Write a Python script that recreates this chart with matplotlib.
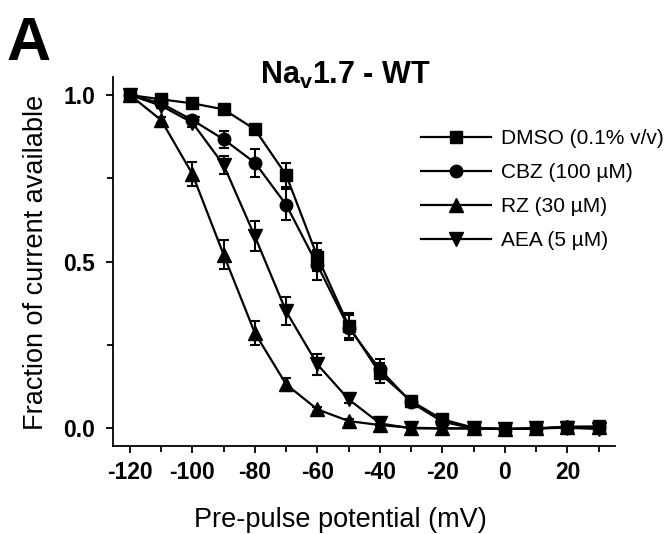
import matplotlib
matplotlib.use("Agg")
import matplotlib.pyplot as plt
from matplotlib.ticker import MultipleLocator

plt.rcParams['font.family'] = ['Liberation Sans', 'DejaVu Sans']
plt.rcParams['mathtext.fontset'] = 'custom'
plt.rcParams['mathtext.bf'] = 'Liberation Sans:bold'
plt.rcParams['mathtext.rm'] = 'Liberation Sans'
plt.rcParams['axes.unicode_minus'] = False

# pre-pulse potential (mV)
voltage = [-120, -110, -100, -90, -80, -70, -60, -50, -40, -30, -20, -10, 0, 10, 20, 30]

dmso = [1.0, 0.987, 0.975, 0.957, 0.897, 0.76, 0.515, 0.308, 0.165, 0.082, 0.027, 0.002, -0.002, 0.0, 0.005, 0.006]
dmso_err = [0, 0.005, 0.005, 0.008, 0.01, 0.037, 0.042, 0.037, 0.03, 0.015, 0.008, 0.005, 0.003, 0.003, 0.004, 0.004]
cbz = [1.0, 0.975, 0.925, 0.867, 0.797, 0.671, 0.49, 0.302, 0.177, 0.078, 0.02, 0.0, -0.002, 0.0, 0.004, 0.004]
cbz_err = [0, 0.008, 0.012, 0.026, 0.042, 0.047, 0.045, 0.037, 0.03, 0.015, 0.008, 0.004, 0.003, 0.003, 0.004, 0.004]
rz = [1.0, 0.925, 0.763, 0.521, 0.286, 0.132, 0.057, 0.022, 0.01, 0.002, 0.0, 0.0, -0.002, 0.0, 0.003, 0.003]
rz_err = [0, 0.01, 0.035, 0.044, 0.036, 0.019, 0.008, 0.005, 0.004, 0.003, 0.002, 0.002, 0.002, 0.002, 0.002, 0.002]
aea = [1.0, 0.968, 0.917, 0.79, 0.576, 0.351, 0.192, 0.087, 0.015, 0.0, 0.0, 0.0, -0.002, 0.0, 0.002, -0.002]
aea_err = [0, 0.008, 0.012, 0.028, 0.045, 0.042, 0.031, 0.012, 0.006, 0.003, 0.002, 0.002, 0.002, 0.002, 0.002, 0.002]

labels = ['DMSO (0.1% v/v)', 'CBZ (100 µM)', 'RZ (30 µM)', 'AEA (5 µM)']
markers = ['s', 'o', '^', 'v']
msizes = [8.5, 9, 10, 10]

fig = plt.figure(figsize=(6.71, 5.34), dpi=100)
ax = fig.add_axes([0.1684, 0.1648, 0.7481, 0.6916])

series = [(dmso, dmso_err), (cbz, cbz_err), (rz, rz_err), (aea, aea_err)]
for (y, e), lab, m, ms in zip(series, labels, markers, msizes):
    ax.errorbar(voltage, y, yerr=e, fmt='none', ecolor='black', elinewidth=1.5,
                capsize=3.8, capthick=1.5, zorder=2)
    ax.plot(voltage, y, color='black', lw=1.6, marker=m, ms=ms, label=lab, zorder=3)

ax.set_xlim(-125.4, 35.2)
ax.set_ylim(-0.0528, 1.055)
ax.set_xticks(range(-120, 21, 20))
ax.xaxis.set_minor_locator(MultipleLocator(10))
ax.set_yticks([0.0, 0.5, 1.0])
ax.set_yticklabels(['0.0', '0.5', '1.0'])
ax.yaxis.set_minor_locator(MultipleLocator(0.25))

for s in ['top', 'right']:
    ax.spines[s].set_visible(False)
for s in ['left', 'bottom']:
    ax.spines[s].set_linewidth(1.3)

ax.tick_params(axis='both', which='major', direction='out', length=5, width=1.3)
ax.tick_params(axis='both', which='minor', direction='out', length=4.5, width=1.3)
ax.tick_params(axis='x', which='major', pad=6, labelsize=16.5)
ax.tick_params(axis='y', which='major', pad=8, labelsize=16.5)
for t in ax.get_xticklabels() + ax.get_yticklabels():
    t.set_fontweight('bold')

ax.legend(loc='upper left', bbox_to_anchor=(0.613, 0.858), frameon=False,
          fontsize=15, handlelength=3.37, handletextpad=0.5, labelspacing=0.72,
          borderpad=0, borderaxespad=0, numpoints=1)

fig.text(0.514, 1 - 84 / 534, r'Na$_\mathbf{v}$1.7 - WT', fontsize=22, fontweight='bold',
         ha='center', va='baseline')
fig.text(0.010, 1 - 60 / 534, 'A', fontsize=44, fontweight='bold', ha='left', va='baseline')
fig.text(0.508, 1 - 527 / 534, 'Pre-pulse potential (mV)', fontsize=19.5,
         ha='center', va='baseline')
fig.text(0.054, 0.509, 'Fraction of current available', fontsize=19.5,
         rotation=90, ha='center', va='center')

fig.savefig('out.png', dpi=100)
